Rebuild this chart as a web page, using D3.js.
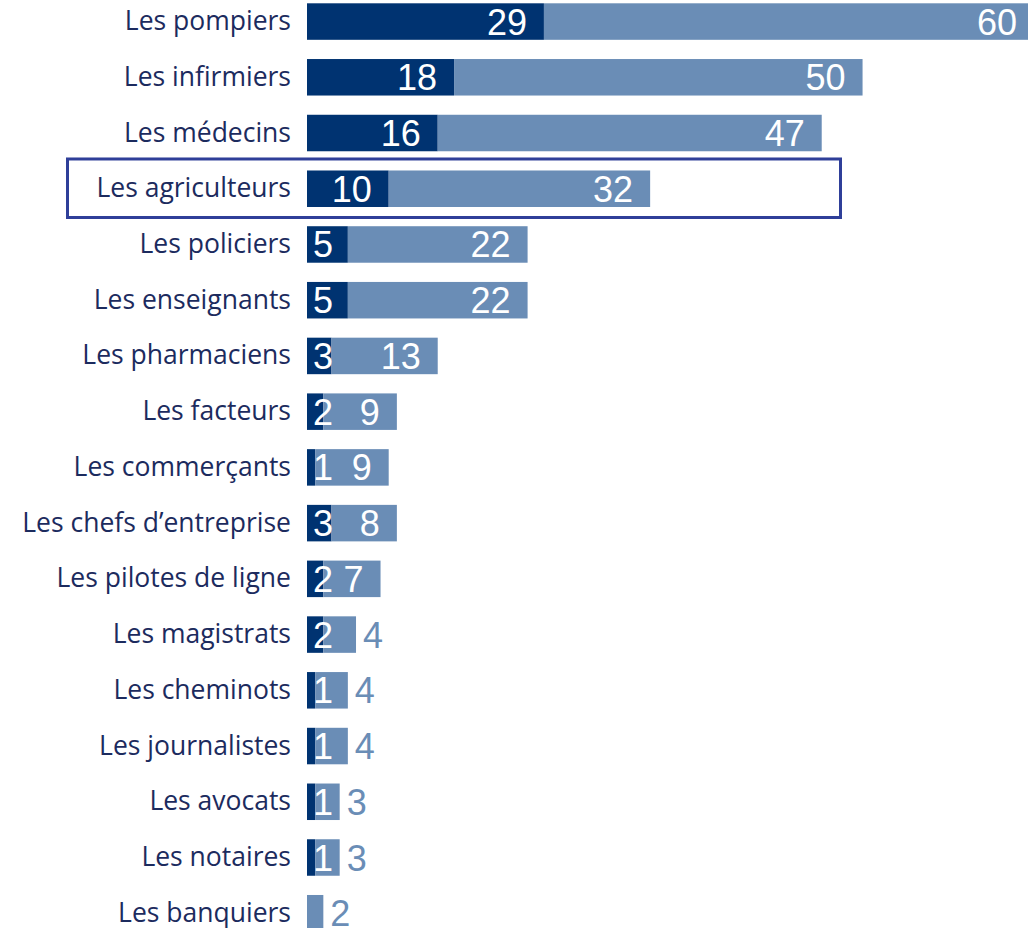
<!DOCTYPE html>
<html>
<head>
<meta charset="utf-8">
<script src="https://cdn.jsdelivr.net/npm/d3@7"></script>
<style>
  body { margin: 0; background: #fff; }
  svg { display: block; }
</style>
</head>
<body>
<div id="chart"></div>
<script>
(function() {
  var width = 1028,
      height = 928;

  // categories, top to bottom
  var categories = ["Les pompiers", "Les infirmiers", "Les médecins", "Les agriculteurs",
    "Les policiers", "Les enseignants", "Les pharmaciens", "Les facteurs",
    "Les commerçants", "Les chefs d\u2019entreprise", "Les pilotes de ligne",
    "Les magistrats", "Les cheminots", "Les journalistes", "Les avocats",
    "Les notaires", "Les banquiers"];
  // dark segment (first series)
  var firstValues = [29, 18, 16, 10, 5, 5, 3, 2, 1, 3, 2, 2, 1, 1, 1, 1, 0];
  // light segment (second series), stacked after the dark one
  var secondValues = [60, 50, 47, 32, 22, 22, 13, 9, 9, 8, 7, 4, 4, 4, 3, 3, 2];
  var highlighted = "Les agriculteurs";

  var darkBlue = "#003371",
      lightBlue = "#6a8db6",
      textColor = "#1c2b5e",
      boxColor = "#2f3f99";

  var rows = categories.map(function(c, i) {
    return { name: c, a: firstValues[i], b: secondValues[i] };
  });

  var svg = d3.select("#chart")
    .append("svg")
    .attr("width", width)
    .attr("height", height);

  // 8.17 px per unit, bars start at x=307
  var x = d3.scaleLinear()
    .domain([0, 89])
    .range([307, 307 + 89 * 8.17]);

  var step = 55.73, pad = 0.345;
  var y = d3.scaleBand()
    .domain(categories)
    .range([3.3 - step * pad / 2, 3.3 - step * pad / 2 + step * categories.length])
    .paddingInner(pad)
    .paddingOuter(pad / 2);

  // highlight box round one row
  var hy = y(highlighted);
  svg.append("rect")
    .attr("x", 67.5)
    .attr("y", hy - 11.5)
    .attr("width", 773)
    .attr("height", y.bandwidth() + 22)
    .attr("fill", "none")
    .attr("stroke", boxColor)
    .attr("stroke-width", 3);

  var g = svg.selectAll(".row")
    .data(rows)
    .enter().append("g")
    .attr("class", "row")
    .attr("transform", function(d) { return "translate(0," + y(d.name) + ")"; });

  var bh = y.bandwidth();

  g.append("text")
    .attr("x", 291)
    .attr("y", bh / 2 + 8.5)
    .attr("text-anchor", "end")
    .attr("fill", textColor)
    .style("font-family", "'Open Sans', 'Noto Sans', sans-serif")
    .style("font-size", "26.5px")
    .text(function(d) { return d.name; });

  g.append("rect")
    .attr("x", x(0))
    .attr("y", 0)
    .attr("width", function(d) { return x(d.a) - x(0); })
    .attr("height", bh)
    .attr("fill", darkBlue);

  g.append("rect")
    .attr("x", function(d) { return x(d.a); })
    .attr("y", 0)
    .attr("width", function(d) { return x(d.a + d.b) - x(d.a); })
    .attr("height", bh)
    .attr("fill", lightBlue);

  var numFont = "'Liberation Sans', Arial, sans-serif";

  // value labels, "inside end" with a clamp on the left
  function placeLabel(sel, x0, x1) {
    sel.each(function(d) {
      var t = d3.select(this);
      var w = this.getComputedTextLength();
      var s = x0(d), e = x1(d);
      if (e - 17 - w < s + 6) {
        t.attr("x", s + 6).attr("text-anchor", "start");
      } else {
        t.attr("x", e - 17).attr("text-anchor", "end");
      }
    });
  }

  g.filter(function(d) { return d.a > 0; })
    .append("text")
    .attr("y", bh / 2 + 13)
    .attr("fill", "#fff")
    .style("font-family", numFont)
    .style("font-size", "36px")
    .text(function(d) { return d.a; })
    .call(placeLabel, function() { return x(0); }, function(d) { return x(d.a); });

  var inside = function(d) { return x(d.a + d.b) - x(d.a) > 45; };

  g.filter(inside)
    .append("text")
    .attr("y", bh / 2 + 13)
    .attr("fill", "#fff")
    .style("font-family", numFont)
    .style("font-size", "36px")
    .text(function(d) { return d.b; })
    .call(placeLabel, function(d) { return x(d.a); }, function(d) { return x(d.a + d.b); });

  g.filter(function(d) { return !inside(d); })
    .append("text")
    .attr("x", function(d) { return x(d.a + d.b) + 7; })
    .attr("y", bh / 2 + 13)
    .attr("fill", lightBlue)
    .style("font-family", numFont)
    .style("font-size", "36px")
    .text(function(d) { return d.b; });
})();
</script>
</body>
</html>
